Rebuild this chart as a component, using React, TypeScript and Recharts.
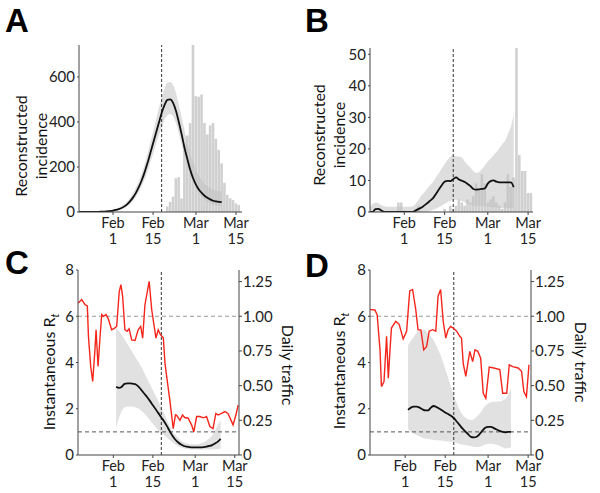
import React from "react";
import { ComposedChart, Bar, Line, Area, XAxis, YAxis, ReferenceLine } from "recharts";

const FONT = "Lato, 'Open Sans', sans-serif";
const AXIS = "#444";
const TEXT = "#222";
const RED = "#f4261c";

// day numbers count from Jan 1 2020 = 0
const tickDays = [31, 45, 60, 74];
const tickMonths = ["Feb", "Feb", "Mar", "Mar"];
const tickDates = ["1", "15", "1", "15"];
const lockdownDay = 48;

// ---- panel A: reconstructed incidence, first city
const reportedDaysA = [50, 51, 52, 53, 54, 55, 56, 57, 58, 59, 60, 61, 62, 63, 64, 65, 66, 67, 68, 69, 70, 71, 72, 73, 74, 75];
const reportedA = [25, 45, 68, 150, 155, 60, 300, 340, 395, 742, 515, 512, 522, 395, 345, 385, 395, 325, 276, 216, 130, 76, 61, 53, 38, 31];
const fitDaysA = [19, 20, 21, 22, 23, 24, 25, 26, 27, 28, 29, 30, 31, 32, 33, 34, 35, 36, 37, 38, 39, 40, 41, 42, 43, 44, 45, 46, 47, 48, 49, 50, 51, 52, 53, 54, 55, 56, 57, 58, 59, 60, 61, 62, 63, 64, 65, 66, 67, 68, 69];
const fitA = [0, 0, 0, 0, 0, 0, 1, 1, 2, 2, 3, 4, 6, 9, 13, 18, 25, 35, 48, 65, 85, 110, 140, 175, 215, 260, 305, 350, 395, 440, 475, 498, 500, 485, 450, 400, 345, 285, 235, 188, 150, 122, 100, 85, 72, 63, 56, 50, 47, 45, 44];
const fitLowA = [0, 0, 0, 0, 0, 0, 0, 0, 1, 1, 2, 3, 4, 6, 9, 13, 18, 26, 36, 50, 67, 88, 113, 143, 178, 218, 258, 300, 340, 378, 410, 430, 435, 425, 395, 350, 300, 250, 205, 165, 132, 105, 85, 68, 55, 46, 38, 33, 30, 28, 27];
const fitHighA = [0, 0, 1, 1, 1, 2, 2, 3, 4, 5, 6, 7, 10, 14, 19, 26, 35, 47, 63, 84, 108, 136, 170, 210, 255, 305, 355, 408, 460, 508, 548, 574, 578, 565, 530, 478, 420, 362, 308, 262, 222, 190, 163, 142, 126, 114, 105, 98, 94, 92, 90];

// ---- panel B: reconstructed incidence, second city
const reportedDaysB = [29, 30, 35, 36, 45, 47, 48, 49, 50, 51, 52, 53, 54, 55, 56, 57, 58, 59, 60, 61, 62, 63, 64, 65, 66, 67, 68, 69, 70, 71, 72, 73, 74, 75];
const reportedB = [3, 3, 1, 2, 1, 2, 1, 2, 4, 3, 2, 4, 3, 5, 9, 7, 12, 9, 3, 4, 5, 3, 2, 1, 3, 12, 8, 11, 52, 18, 13, 13, 6, 6];
const fitDaysB = fitDaysA;
const fitB = [0, 0, 0.9, 1.0, 0.5, 0, 0, 0, 0, 0, 0, 0, 0, 0, 0, 0, 0.5, 1.0, 1.4, 2.1, 2.8, 3.6, 4.4, 5.7, 7.1, 8.5, 9.6, 9.9, 9.8, 10.4, 11.0, 10.3, 9.9, 9.5, 8.9, 8.2, 7.3, 7.1, 7.2, 7.3, 7.5, 9.0, 9.8, 10.0, 9.6, 9.4, 9.4, 9.4, 9.4, 9.4, 7.9];
const fitLowB = [0, 0, 0, 0, 0, 0, 0, 0, 0, 0, 0, 0, 0, 0, 0, 0, 0, 0, 0, 0, 0, 0.3, 0.7, 1.0, 1.5, 2.0, 2.6, 3.1, 3.5, 3.8, 3.9, 3.8, 3.5, 3.0, 2.6, 2.3, 2.0, 1.8, 1.8, 1.8, 1.8, 1.7, 1.6, 1.5, 1.4, 1.3, 1.3, 1.3, 1.3, 1.3, 1.3];
const fitHighB = [1.5, 2.5, 3.0, 2.8, 2.2, 1.8, 1.7, 1.7, 1.7, 1.7, 1.7, 1.7, 1.7, 1.7, 1.7, 1.8, 2.7, 4.0, 5.3, 6.3, 7.5, 8.6, 9.5, 11.0, 12.3, 13.8, 15.2, 16.5, 17.4, 17.8, 17.7, 17.5, 17.3, 16.0, 15.0, 14.0, 12.9, 12.4, 12.8, 13.6, 14.8, 16.0, 17.0, 18.0, 19.0, 20.2, 21.5, 22.5, 24.8, 27.0, 31.0];

// ---- panel C: Rt and daily traffic, first city
const rtDaysC = [32, 33, 34, 35, 36, 37, 38, 39, 40, 41, 42, 43, 44, 45, 46, 47, 48, 49, 50, 51, 52, 53, 54, 55, 56, 57, 58, 59, 60, 61, 62, 63, 64, 65, 66, 67, 68, 69];
const rtC = [2.95, 2.9, 2.95, 3.08, 3.1, 3.1, 3.08, 3.05, 2.95, 2.8, 2.65, 2.5, 2.33, 2.15, 1.98, 1.8, 1.62, 1.45, 1.25, 1.02, 0.82, 0.66, 0.54, 0.45, 0.39, 0.36, 0.34, 0.33, 0.33, 0.33, 0.33, 0.34, 0.36, 0.39, 0.43, 0.5, 0.58, 0.7];
const rtLowC = [1.2, 1.6, 1.9, 2.05, 2.1, 2.1, 2.1, 2.05, 2.0, 1.9, 1.8, 1.65, 1.5, 1.35, 1.2, 1.05, 0.95, 0.85, 0.75, 0.65, 0.55, 0.45, 0.38, 0.32, 0.28, 0.26, 0.25, 0.24, 0.24, 0.24, 0.24, 0.24, 0.24, 0.24, 0.24, 0.25, 0.25, 0.28];
const rtHighC = [5.5, 5.35, 5.2, 5.0, 4.8, 4.6, 4.4, 4.2, 4.0, 3.8, 3.55, 3.3, 3.05, 2.8, 2.55, 2.3, 2.05, 1.8, 1.5, 1.25, 1.0, 0.85, 0.72, 0.62, 0.55, 0.5, 0.48, 0.47, 0.47, 0.48, 0.5, 0.55, 0.62, 0.72, 0.85, 1.05, 1.3, 1.5];
const trafficDaysC = [18.6, 19.8, 21.0, 21.8, 22.2, 23.0, 23.7, 24.5, 24.9, 25.6, 26.3, 26.9, 27.5, 28.4, 29.2, 30.4, 31.2, 32.2, 33.1, 33.7, 34.3, 35.1, 35.9, 36.6, 37.5, 38.7, 39.8, 40.7, 41.4, 42.2, 43.7, 44.6, 46.1, 46.9, 47.7, 48.7, 49.3, 49.9, 51.0, 52.2, 53.0, 53.4, 54.6, 55.5, 56.3, 57.5, 58.7, 59.5, 60.5, 61.6, 63.0, 64.0, 65.2, 66.3, 67.3, 68.1, 69.3, 70.5, 71.6, 73.4, 74.4, 75.2];
const trafficC = [1.095, 1.12, 1.083, 1.075, 0.855, 0.638, 0.53, 0.758, 0.903, 0.638, 0.85, 1.012, 1.0, 1.012, 0.983, 0.903, 0.91, 0.927, 1.178, 1.228, 1.143, 0.903, 0.892, 0.91, 0.83, 0.825, 0.903, 0.927, 0.842, 1.083, 1.252, 1.047, 0.842, 0.903, 0.867, 0.845, 0.662, 0.565, 0.397, 0.19, 0.29, 0.288, 0.25, 0.288, 0.27, 0.265, 0.217, 0.167, 0.277, 0.277, 0.268, 0.277, 0.205, 0.19, 0.3, 0.288, 0.3, 0.313, 0.3, 0.217, 0.288, 0.36];

// ---- panel D: Rt and daily traffic, second city
const rtDaysD = [32, 33, 34, 35, 36, 37, 38, 39, 40, 41, 42, 43, 44, 45, 46, 47, 48, 49, 50, 51, 52, 53, 54, 55, 56, 57, 58, 59, 60, 61, 62, 63, 64, 65, 66, 67, 68];
const rtD = [1.95, 2.05, 2.09, 2.09, 2.05, 1.98, 1.93, 1.93, 2.05, 2.12, 2.07, 2.0, 1.92, 1.84, 1.77, 1.7, 1.6, 1.45, 1.3, 1.15, 1.02, 0.9, 0.78, 0.76, 0.79, 0.9, 1.05, 1.18, 1.22, 1.22, 1.16, 1.1, 1.04, 1.0, 0.98, 1.0, 1.0];
const rtLowD = [1.12, 1.0, 0.93, 0.85, 0.8, 0.75, 0.71, 0.69, 0.67, 0.65, 0.64, 0.64, 0.62, 0.6, 0.58, 0.57, 0.56, 0.52, 0.48, 0.45, 0.43, 0.41, 0.38, 0.36, 0.35, 0.35, 0.4, 0.45, 0.48, 0.49, 0.47, 0.44, 0.4, 0.34, 0.28, 0.3, 0.35];
const rtHighD = [4.75, 4.95, 5.1, 5.3, 5.42, 5.42, 5.38, 5.25, 5.1, 4.95, 4.7, 4.42, 4.1, 3.72, 3.35, 2.95, 2.6, 2.25, 1.97, 1.75, 1.62, 1.55, 1.51, 1.55, 1.65, 1.78, 1.95, 2.12, 2.22, 2.28, 2.3, 2.3, 2.32, 2.35, 2.42, 2.6, 2.85];
const trafficDaysD = [18.7, 20.4, 21.2, 22.2, 22.7, 23.6, 24.5, 25.1, 25.7, 26.2, 27.7, 28.9, 30.3, 31.5, 32.6, 33.6, 34.7, 35.5, 36.5, 37.5, 38.5, 39.4, 40.6, 41.7, 42.5, 43.4, 44.3, 45.2, 46.0, 46.9, 47.8, 49.0, 50.1, 50.7, 51.3, 52.2, 53.6, 54.6, 55.4, 56.4, 57.4, 58.3, 59.2, 60.4, 62.0, 64.1, 65.1, 66.5, 67.4, 68.6, 70.5, 71.7, 72.5, 73.4, 74.3];
const trafficD = [1.048, 1.045, 1.012, 0.758, 0.493, 0.53, 0.855, 0.553, 0.758, 0.915, 0.963, 0.942, 0.837, 0.892, 1.182, 1.193, 1.048, 0.903, 0.9, 0.758, 0.783, 0.892, 0.903, 0.892, 1.145, 1.193, 0.963, 0.843, 0.903, 0.927, 0.915, 0.892, 0.855, 0.843, 0.66, 0.567, 0.747, 0.673, 0.758, 0.747, 0.698, 0.445, 0.408, 0.633, 0.627, 0.615, 0.445, 0.445, 0.65, 0.637, 0.627, 0.603, 0.457, 0.42, 0.65];

const rtTicks = [0, 2, 4, 6, 8];
const trafficTicks = [0, 0.25, 0.5, 0.75, 1, 1.25];

type Row = { day: number; [key: string]: number | number[] };
type Column = [string, number[], (number | number[])[]];

// merge several (days, values) columns into one table keyed by day
function table(cols: Column[]): Row[] {
  const byDay = new Map<number, Row>();
  cols.forEach(([key, days, values]) => {
    days.forEach((d, i) => {
      const row = byDay.get(d) ?? { day: d };
      row[key] = values[i];
      byDay.set(d, row);
    });
  });
  return [...byDay.values()].sort((a, b) => a.day - b.day);
}

const zip = (low: number[], high: number[]) => low.map((v, i) => [v, high[i]]);

const rowsA = table([
  ["reported", reportedDaysA, reportedA],
  ["fit", fitDaysA, fitA],
  ["band", fitDaysA, zip(fitLowA, fitHighA)],
]);
const rowsB = table([
  ["reported", reportedDaysB, reportedB],
  ["fit", fitDaysB, fitB],
  ["band", fitDaysB, zip(fitLowB, fitHighB)],
]);
const rowsC = table([
  ["rt", rtDaysC, rtC],
  ["band", rtDaysC, zip(rtLowC, rtHighC)],
  ["traffic", trafficDaysC, trafficC],
]);
const rowsD = table([
  ["rt", rtDaysD, rtD],
  ["band", rtDaysD, zip(rtLowD, rtHighD)],
  ["traffic", trafficDaysD, trafficD],
]);

function DateTick(props: any) {
  const { x, y, payload } = props;
  const i = tickDays.indexOf(payload.value);
  return (
    <g fill={TEXT} fontSize={14.5}>
      <text x={x} y={y + 13} textAnchor="middle">{tickMonths[i]}</text>
      <text x={x} y={y + 29} textAnchor="middle">{tickDates[i]}</text>
    </g>
  );
}

interface IncidenceProps {
  rows: Row[];
  left: number;
  domain: [number, number];
  yMax: number;
  yTicks: number[];
  yWidth: number;
  top: number;
  right: number;
}

function IncidencePanel({ rows, left, domain, yMax, yTicks, yWidth, top, right }: IncidenceProps) {
  return (
    <div style={{ position: "absolute", left, top: 0 }}>
      <ComposedChart
        width={300}
        height={250}
        data={rows}
        barCategoryGap={0}
        margin={{ top, right, bottom: 2, left: 0 }}
      >
        <XAxis
          type="number"
          dataKey="day"
          domain={domain}
          allowDataOverflow
          ticks={tickDays}
          interval={0}
          tick={<DateTick />}
          tickSize={3}
          tickMargin={0}
          height={36}
          stroke={AXIS}
        />
        <YAxis
          domain={[0, yMax]}
          allowDataOverflow
          ticks={yTicks}
          interval={0}
          width={yWidth}
          tickSize={2}
          tickMargin={2}
          stroke={AXIS}
          tick={{ fontSize: 15, fill: TEXT }}
        />
        <Bar dataKey="reported" fill="#c0c0c0" fillOpacity={0.75} barSize={2.6} isAnimationActive={false} />
        <Area
          dataKey="band"
          type="monotone"
          stroke="none"
          fill="#c2c2c2"
          fillOpacity={0.55}
          connectNulls
          isAnimationActive={false}
        />
        <ReferenceLine x={lockdownDay} stroke="#333" strokeDasharray="3 2" />
        <Line
          dataKey="fit"
          type="monotone"
          stroke="#111"
          strokeWidth={1.8}
          dot={false}
          connectNulls
          isAnimationActive={false}
        />
      </ComposedChart>
    </div>
  );
}

interface RtProps {
  rows: Row[];
  left: number;
  domain: [number, number];
  leftWidth: number;
  rightWidth: number;
}

function RtPanel({ rows, left, domain, leftWidth, rightWidth }: RtProps) {
  return (
    <div style={{ position: "absolute", left, top: 250 }}>
      <ComposedChart width={300} height={243} data={rows} margin={{ top: 20, right: 0, bottom: 2, left: 0 }}>
        <XAxis
          type="number"
          dataKey="day"
          domain={domain}
          allowDataOverflow
          ticks={tickDays}
          interval={0}
          tick={<DateTick />}
          tickSize={3}
          tickMargin={0}
          height={36}
          stroke={AXIS}
        />
        <YAxis
          yAxisId="rt"
          domain={[0, 8]}
          allowDataOverflow
          ticks={rtTicks}
          interval={0}
          width={leftWidth}
          tickSize={2}
          tickMargin={2}
          stroke={AXIS}
          tick={{ fontSize: 15, fill: TEXT }}
        />
        <YAxis
          yAxisId="traffic"
          orientation="right"
          domain={[0, 4 / 3]}
          allowDataOverflow
          ticks={trafficTicks}
          interval={0}
          width={rightWidth}
          tickSize={3}
          tickMargin={1}
          stroke={AXIS}
          tick={{ fontSize: 15, fill: TEXT }}
          tickFormatter={(v: number) => (v === 0 ? "0" : v.toFixed(2))}
        />
        <Area
          yAxisId="rt"
          dataKey="band"
          type="monotone"
          stroke="none"
          fill="#dcdcdc"
          fillOpacity={0.85}
          connectNulls
          isAnimationActive={false}
        />
        <ReferenceLine yAxisId="rt" y={6} stroke="#999" strokeDasharray="4 3" />
        <ReferenceLine yAxisId="rt" y={1} stroke="#555" strokeDasharray="4 3" />
        <ReferenceLine yAxisId="rt" x={lockdownDay} stroke="#333" strokeDasharray="3 2" />
        <Line
          yAxisId="traffic"
          dataKey="traffic"
          stroke={RED}
          strokeWidth={1.4}
          dot={false}
          connectNulls
          isAnimationActive={false}
        />
        <Line
          yAxisId="rt"
          dataKey="rt"
          type="monotone"
          stroke="#111"
          strokeWidth={1.8}
          dot={false}
          connectNulls
          isAnimationActive={false}
        />
      </ComposedChart>
    </div>
  );
}

function VLabel({ x, y, children, angle = -90 }: { x: number; y: number; children: React.ReactNode; angle?: number }) {
  return (
    <text transform={`translate(${x},${y}) rotate(${angle})`} textAnchor="middle" fontSize={16} fill="#111">
      {children}
    </text>
  );
}

function RtLabel({ x, y }: { x: number; y: number }) {
  return (
    <VLabel x={x} y={y}>
      Instantaneous R
      <tspan dy={4} fontSize={11} fontStyle="italic">
        t
      </tspan>
    </VLabel>
  );
}

export default function App() {
  const letter = { fontSize: 33, fontWeight: 700, fontFamily: "'Liberation Sans', Arial, sans-serif", fill: "#000" };
  return (
    <div
      style={{
        position: "absolute",
        left: 0,
        top: 0,
        width: 600,
        height: 493,
        background: "#fff",
        fontFamily: FONT,
        overflow: "hidden",
      }}
    >
      <IncidencePanel rows={rowsA} left={0} domain={[19.1, 76.1]} yMax={742} yTicks={[0, 200, 400, 600]} yWidth={79} top={45} right={58} />
      <IncidencePanel rows={rowsB} left={300} domain={[19.1, 75.7]} yMax={52} yTicks={[0, 10, 20, 30, 40, 50]} yWidth={70} top={48} right={67} />
      <RtPanel rows={rowsC} left={0} domain={[18.5, 75.5]} leftWidth={78} rightWidth={61} />
      <RtPanel rows={rowsD} left={300} domain={[18.7, 75]} leftWidth={70} rightWidth={69} />
      <svg width={600} height={493} style={{ position: "absolute", left: 0, top: 0, pointerEvents: "none" }}>
        <text x={5} y={32} {...letter}>A</text>
        <text x={305} y={32} {...letter}>B</text>
        <text x={5} y={274} {...letter}>C</text>
        <text x={305} y={277} {...letter}>D</text>
        <VLabel x={27} y={146}>Reconstructed</VLabel>
        <VLabel x={47} y={146}>incidence</VLabel>
        <VLabel x={325} y={135}>Reconstructed</VLabel>
        <VLabel x={345} y={135}>incidence</VLabel>
        <RtLabel x={55} y={372} />
        <VLabel x={282} y={365} angle={90}>Daily traffic</VLabel>
        <RtLabel x={345} y={371} />
        <VLabel x={575} y={362} angle={90}>Daily traffic</VLabel>
      </svg>
    </div>
  );
}
